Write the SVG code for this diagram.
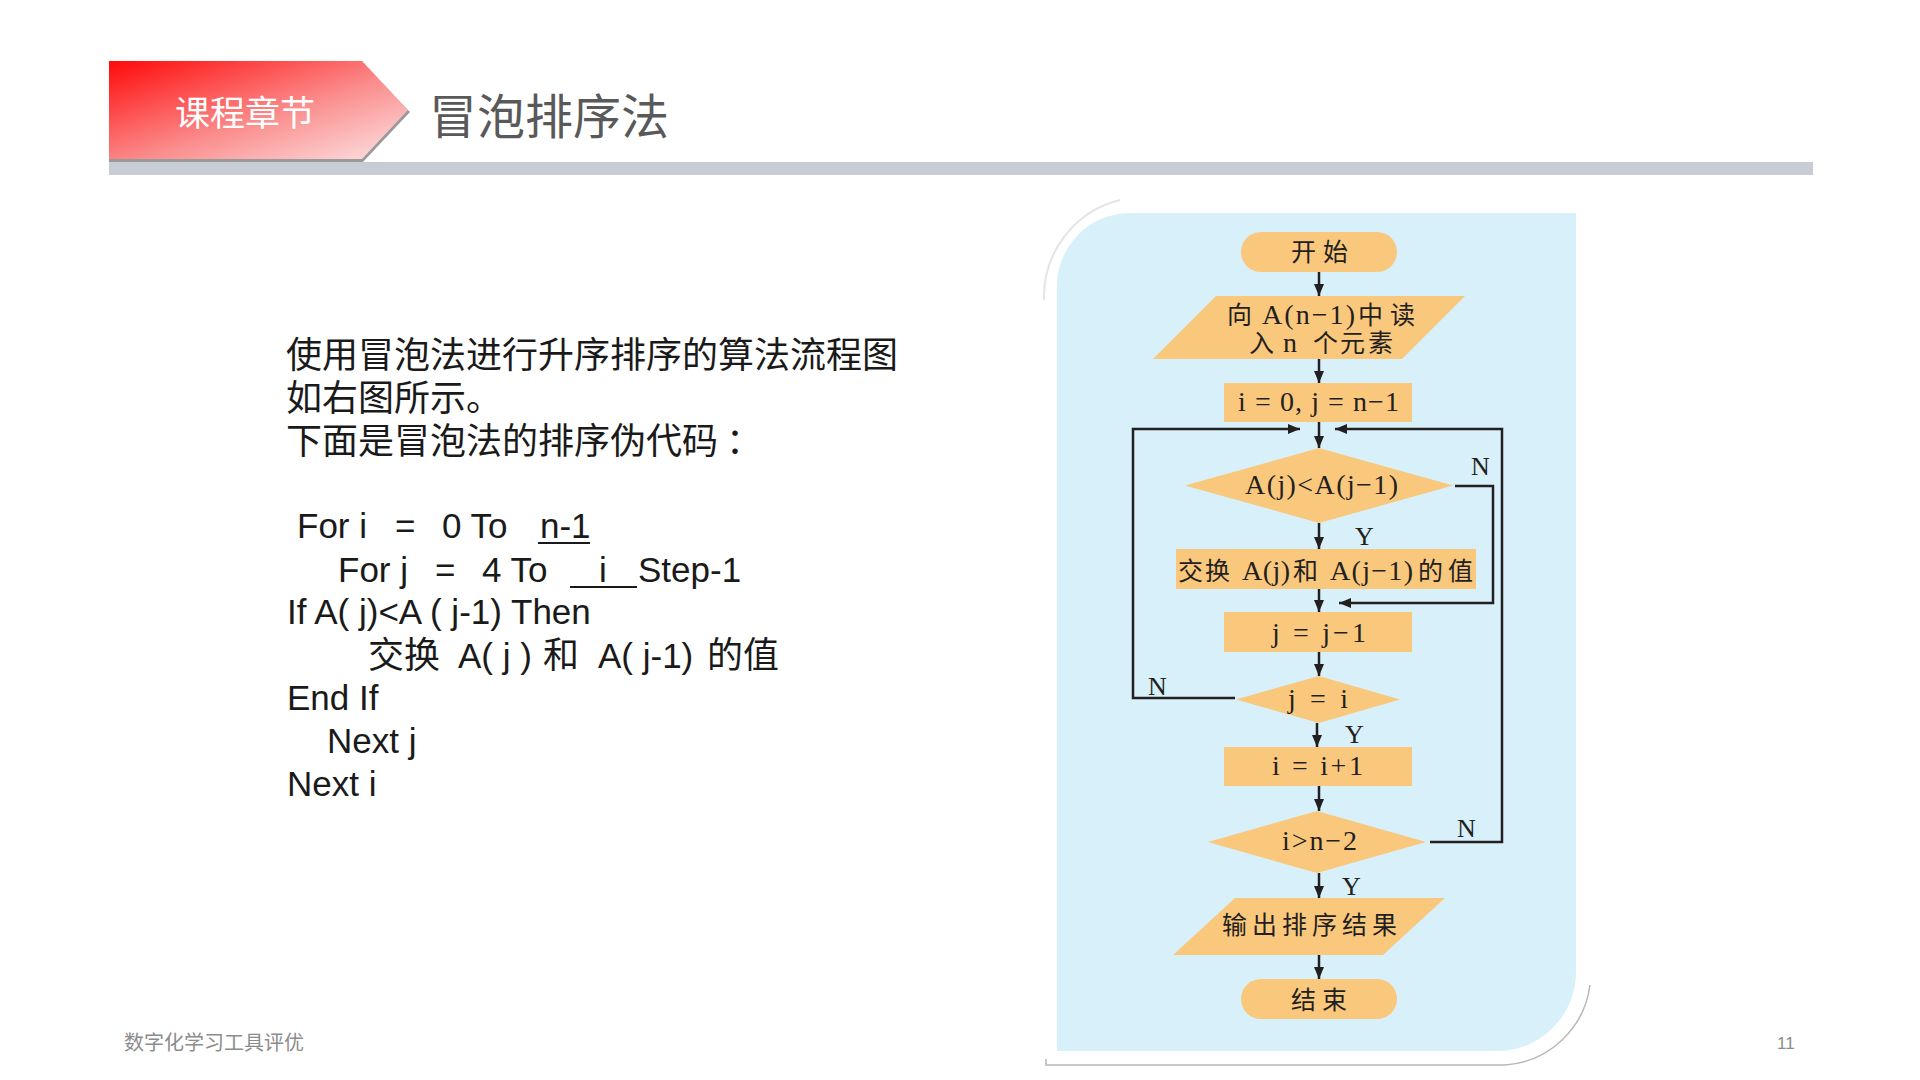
<svg xmlns="http://www.w3.org/2000/svg" width="1920" height="1080" viewBox="0 0 1920 1080">
<defs>
<linearGradient id="bannerGrad" x1="0" y1="0" x2="1" y2="1">
<stop offset="0" stop-color="#FF0A0A"/>
<stop offset="0.55" stop-color="#FB8C8C"/>
<stop offset="1" stop-color="#FCE4E4"/>
</linearGradient>
<marker id="arr" markerWidth="12" markerHeight="10" refX="12" refY="5" orient="auto" markerUnits="userSpaceOnUse">
<path d="M0,0 L12,5 L0,10 Z" fill="#231F20"/>
</marker>
<style>
.para{font-family:"Noto Sans CJK SC","Liberation Sans",sans-serif;font-size:36px;fill:#1a1a1a}
.code{font-family:"Liberation Sans","Noto Sans CJK SC",sans-serif;font-size:35px;fill:#1a1a1a}
.codecjk{font-family:"Noto Sans CJK SC",sans-serif;font-size:36px}
.ul{stroke:#1a1a1a;stroke-width:2}
.panel{fill:#D7F0FA}
.shape{fill:#FAC87C}
.ft{font-family:"Liberation Serif","Noto Sans CJK SC",serif;font-size:28px;fill:#231F20}
.fc{font-family:"Noto Sans CJK SC",sans-serif;font-size:25px}
.lbl{font-family:"Liberation Serif",serif;font-size:26px;fill:#231F20}
.conn{fill:none;stroke:#231F20;stroke-width:2.5}
.foot{font-family:"Noto Sans CJK SC","Liberation Sans",sans-serif;fill:#8C8C8C}
.pgno{font-family:"Liberation Sans",sans-serif;font-size:17px;fill:#8C8C8C}
</style>
</defs>
<rect width="1920" height="1080" fill="#FFFFFF"/>

<!-- header -->
<g id="header">
<polygon points="109,64 362,64 410,112 362,163 109,163" fill="#9A9A9A"/>
<polygon points="109,61 362,61 408,110 362,159 109,159" fill="url(#bannerGrad)"/>
<rect x="109" y="162" width="1704" height="13" fill="#C8CCD5"/>
<text x="175" y="126" font-family="Noto Sans CJK SC, sans-serif" font-size="35" fill="#FFFFFF">课程章节</text>
<text x="429" y="134" font-family="Noto Sans CJK SC, sans-serif" font-size="48" fill="#595959">冒泡排序法</text>
</g>

<!-- left description -->
<g id="description">
<text class="para" x="286" y="368">使用冒泡法进行升序排序的算法流程图</text>
<text class="para" x="286" y="411">如右图所示。</text>
<text class="para" y="454"><tspan x="286">下面是冒泡法的排序伪代码</tspan><tspan x="726">：</tspan></text>
</g>

<g id="pseudocode">
<text class="code" y="538"><tspan x="297">For i</tspan><tspan x="395">=</tspan><tspan x="442">0 To</tspan><tspan x="540">n-1</tspan></text>
<text class="code" y="582"><tspan x="338">For j</tspan><tspan x="435">=</tspan><tspan x="482">4 To</tspan><tspan x="599">i</tspan><tspan x="638">Step-1</tspan></text>
<text class="code" x="287" y="624">If A( j)&lt;A ( j-1) Then</text>
<text class="code" y="668"><tspan class="codecjk" x="368">交换</tspan><tspan x="458">A( j )</tspan><tspan class="codecjk" x="543">和</tspan><tspan x="598">A( j-1)</tspan><tspan class="codecjk" x="707">的值</tspan></text>
<text class="code" x="287" y="710">End If</text>
<text class="code" x="327" y="753">Next j</text>
<text class="code" x="287" y="796">Next i</text>
<line class="ul" x1="538" y1="543" x2="590" y2="543"/>
<line class="ul" x1="570" y1="587" x2="637" y2="587"/>
</g>

<!-- flowchart panel -->
<g id="panel">
<path d="M1044,300 A100,100 0 0 1 1120,200" fill="none" stroke="#E4E4E4" stroke-width="2"/>
<path d="M1046,1059 V1065 H1505 A92,92 0 0 0 1590,985" fill="none" stroke="#B8B8B8" stroke-width="1.5"/>
<path class="panel" d="M1057,286 A73,73 0 0 1 1130,213 H1576 V972 A79,79 0 0 1 1497,1051 H1057 Z"/>
</g>

<!-- connectors -->
<g id="connectors">
<line class="conn" x1="1319" y1="272" x2="1319" y2="296" marker-end="url(#arr)"/>
<line class="conn" x1="1319" y1="359" x2="1319" y2="383" marker-end="url(#arr)"/>
<line class="conn" x1="1319" y1="422" x2="1319" y2="448" marker-end="url(#arr)"/>
<path class="conn" d="M1235,698 H1133 V429 H1300" marker-end="url(#arr)"/>
<path class="conn" d="M1430,842 H1502 V429 H1335" marker-end="url(#arr)"/>
<line class="conn" x1="1319" y1="523" x2="1319" y2="549" marker-end="url(#arr)"/>
<line class="conn" x1="1319" y1="589" x2="1319" y2="612" marker-end="url(#arr)"/>
<path class="conn" d="M1455,486 H1493 V603 H1339" marker-end="url(#arr)"/>
<line class="conn" x1="1319" y1="652" x2="1319" y2="676" marker-end="url(#arr)"/>
<line class="conn" x1="1317" y1="723" x2="1317" y2="747" marker-end="url(#arr)"/>
<line class="conn" x1="1319" y1="786" x2="1319" y2="811" marker-end="url(#arr)"/>
<line class="conn" x1="1319" y1="873" x2="1319" y2="898" marker-end="url(#arr)"/>
<line class="conn" x1="1319" y1="955" x2="1319" y2="979" marker-end="url(#arr)"/>
<text class="lbl" x="1471" y="475">N</text>
<text class="lbl" x="1355" y="545">Y</text>
<text class="lbl" x="1148" y="695">N</text>
<text class="lbl" x="1345" y="743">Y</text>
<text class="lbl" x="1457" y="837">N</text>
<text class="lbl" x="1342" y="895">Y</text>
</g>

<!-- nodes -->
<g id="start">
<rect class="shape" x="1241" y="232" width="156" height="40" rx="20"/>
<text class="ft" y="261"><tspan class="fc" x="1291">开</tspan><tspan class="fc" x="1323">始</tspan></text>
</g>
<g id="input">
<polygon class="shape" points="1216,296 1465,296 1402,359 1153,359"/>
<text class="ft" y="324"><tspan class="fc" x="1227">向</tspan><tspan x="1262" textLength="93">A(n−1)</tspan><tspan class="fc" x="1358">中</tspan><tspan class="fc" x="1390">读</tspan></text>
<text class="ft" y="352"><tspan class="fc" x="1249">入</tspan><tspan x="1283">n</tspan><tspan class="fc" x="1313">个</tspan><tspan class="fc" x="1340">元</tspan><tspan class="fc" x="1368">素</tspan></text>
</g>
<g id="init">
<rect class="shape" x="1224" y="383" width="188" height="39"/>
<text class="ft" x="1238" y="411" textLength="161">i = 0, j = n−1</text>
</g>
<g id="compare">
<polygon class="shape" points="1319,448 1453,485.5 1319,523 1185,485.5"/>
<text class="ft" x="1245" y="494" textLength="153">A(j)&lt;A(j−1)</text>
</g>
<g id="swap">
<rect class="shape" x="1176" y="549" width="300" height="40"/>
<text class="ft" y="580"><tspan class="fc" x="1178">交</tspan><tspan class="fc" x="1205">换</tspan><tspan x="1242" textLength="48">A(j)</tspan><tspan class="fc" x="1293">和</tspan><tspan x="1330" textLength="83">A(j−1)</tspan><tspan class="fc" x="1418">的</tspan><tspan class="fc" x="1448">值</tspan></text>
</g>
<g id="decj">
<rect class="shape" x="1224" y="612" width="188" height="40"/>
<text class="ft" x="1272" y="642" textLength="94">j = j−1</text>
</g>
<g id="checkj">
<polygon class="shape" points="1319,676 1400,699.5 1319,723 1236,699.5"/>
<text class="ft" x="1288" y="708" textLength="60">j = i</text>
</g>
<g id="inci">
<rect class="shape" x="1224" y="747" width="188" height="39"/>
<text class="ft" x="1272" y="775" textLength="91">i = i+1</text>
</g>
<g id="checki">
<polygon class="shape" points="1317,811 1426,842 1317,873 1208,842"/>
<text class="ft" x="1282" y="850" textLength="75">i&gt;n−2</text>
</g>
<g id="output">
<polygon class="shape" points="1235,898 1445,898 1383,955 1173,955"/>
<text class="ft" y="934"><tspan class="fc" x="1222">输</tspan><tspan class="fc" x="1252">出</tspan><tspan class="fc" x="1282">排</tspan><tspan class="fc" x="1312">序</tspan><tspan class="fc" x="1342">结</tspan><tspan class="fc" x="1372">果</tspan></text>
</g>
<g id="end">
<rect class="shape" x="1241" y="979" width="156" height="40" rx="20"/>
<text class="ft" y="1009"><tspan class="fc" x="1291">结</tspan><tspan class="fc" x="1322">束</tspan></text>
</g>

<!-- footer -->
<g id="footer">
<text class="foot" x="124" y="1050" font-size="20">数字化学习工具评优</text>
<text class="pgno" x="1777" y="1049">11</text>
</g>
</svg>
